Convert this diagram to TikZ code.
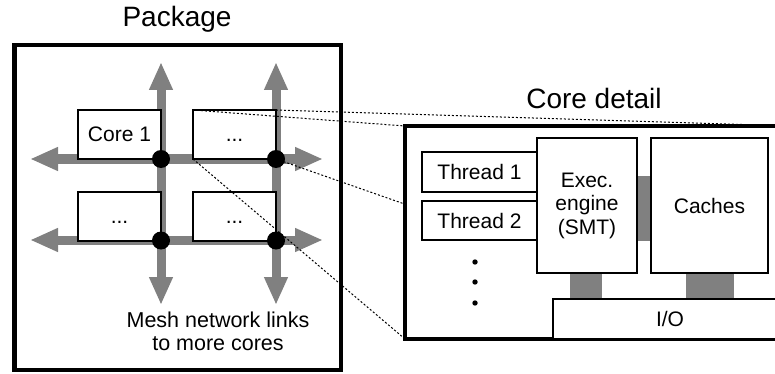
\documentclass[tikz,border=0pt]{standalone}
\usepackage{fontspec}
\setmainfont{Liberation Sans}
\usetikzlibrary{arrows.meta}
\definecolor{meshgray}{RGB}{128,128,128}
\pgfdeclarelayer{links}
\pgfdeclarelayer{front}
\pgfsetlayers{main,links,front}

\begin{document}
\begin{tikzpicture}[x=1pt,y=-1pt,
  box/.style={draw, fill=white, line width=2pt, inner sep=0pt, outer sep=0pt,
    font=\fontsize{21}{23.5}\selectfont, align=center},
  corebox/.style={box, minimum width=83pt, minimum height=49pt,
    text height=15pt, text depth=0pt},
  frame/.style={draw, fill=white, line width=4.5pt, inner sep=0pt, outer sep=0pt},
  meshlink/.style={draw=meshgray, line width=9pt,
    {Triangle[length=28pt,width=22pt]}-{Triangle[length=28pt,width=22pt]}},
  junction/.style={circle, fill=black, minimum size=18pt, inner sep=0pt, outer sep=0pt},
  zoomline/.style={line width=1pt, dash pattern=on 2pt off 2pt},
  busbar/.style={draw=meshgray, line cap=butt, shorten <=1pt, shorten >=1pt},
  title/.style={font=\fontsize{28}{31}\selectfont, anchor=base, inner sep=0pt},
]
\clip (0,0) rectangle (775,374);

% ---- package with a 2x2 mesh of cores ----
\node[title] (pkgtitle) at (177,27) {Package};
\node[frame, minimum width=326.5pt, minimum height=325pt] (package) at (177.75,207.5) {};

\coordinate (w1) at (30,159);  \coordinate (e1) at (323,159);
\coordinate (w2) at (30,240);  \coordinate (e2) at (323,240);
\coordinate (n1) at (161,62);  \coordinate (s1) at (161,305);
\coordinate (n2) at (276,62);  \coordinate (s2) at (276,305);
\draw[meshlink] (w1) -- (e1);
\draw[meshlink] (w2) -- (e2);
\draw[meshlink] (n1) -- (s1);
\draw[meshlink] (n2) -- (s2);

\node[corebox] (core11) at (119.5,134.5) {Core 1};
\node[corebox] (core12) at (234.5,134.5) {...};
\node[corebox] (core21) at (119.5,216) {...};
\node[corebox] (core22) at (234.5,216) {...};

\foreach \c in {core11,core12,core21,core22}
  \node[junction] (j-\c) at (\c.south east) {};

\node[font=\fontsize{21.5}{23.5}\selectfont, align=center, anchor=north, inner sep=0pt]
  (meshlabel) at (218,311.5) {Mesh network links\\to more cores};

% ---- enlarged view of one core ----
\begin{pgfonlayer}{front}
\node[title] (coretitle) at (594,109) {Core detail};
\node[frame, line width=4pt, minimum width=385pt, minimum height=213pt] (detail) at (597.5,232.5) {};

\node[box, minimum width=115pt, minimum height=40pt] (thread1) at (479.5,172) {Thread 1};
\node[box, minimum width=115pt, minimum height=39pt] (thread2) at (479.5,220.5) {Thread 2};
\node[box, minimum width=100pt, minimum height=135pt] (exec) at (587,205.5) {Exec.\\engine\\(SMT)};
\node[box, minimum width=117pt, minimum height=135pt] (caches) at (709.5,205.5) {Caches};
\node[box, minimum width=234pt, minimum height=40pt] (io) at (670,319) {I/O};

\draw[busbar, line width=65pt] ([yshift=-3pt]exec.east) -- ([yshift=-3pt]caches.west);
\draw[busbar, line width=32pt] ([xshift=-1pt]exec.south) -- ([xshift=-1pt]exec.south |- io.north);
\draw[busbar, line width=48pt] (caches.south) -- (caches.south |- io.north);

\foreach \y in {262,282,303}
  \fill (475,\y) circle[radius=2.7pt];
\end{pgfonlayer}

% ---- zoom guides from the second core to the enlarged view ----
\begin{pgfonlayer}{links}
\draw[zoomline] (core12.north west) -- (detail.north west);
\draw[zoomline] (core12.north east) -- (detail.north east);
\draw[zoomline] (core12.south west) -- (detail.south west);
\draw[zoomline] (core12.south east) -- (detail.south east);
\end{pgfonlayer}
\end{tikzpicture}
\end{document}
